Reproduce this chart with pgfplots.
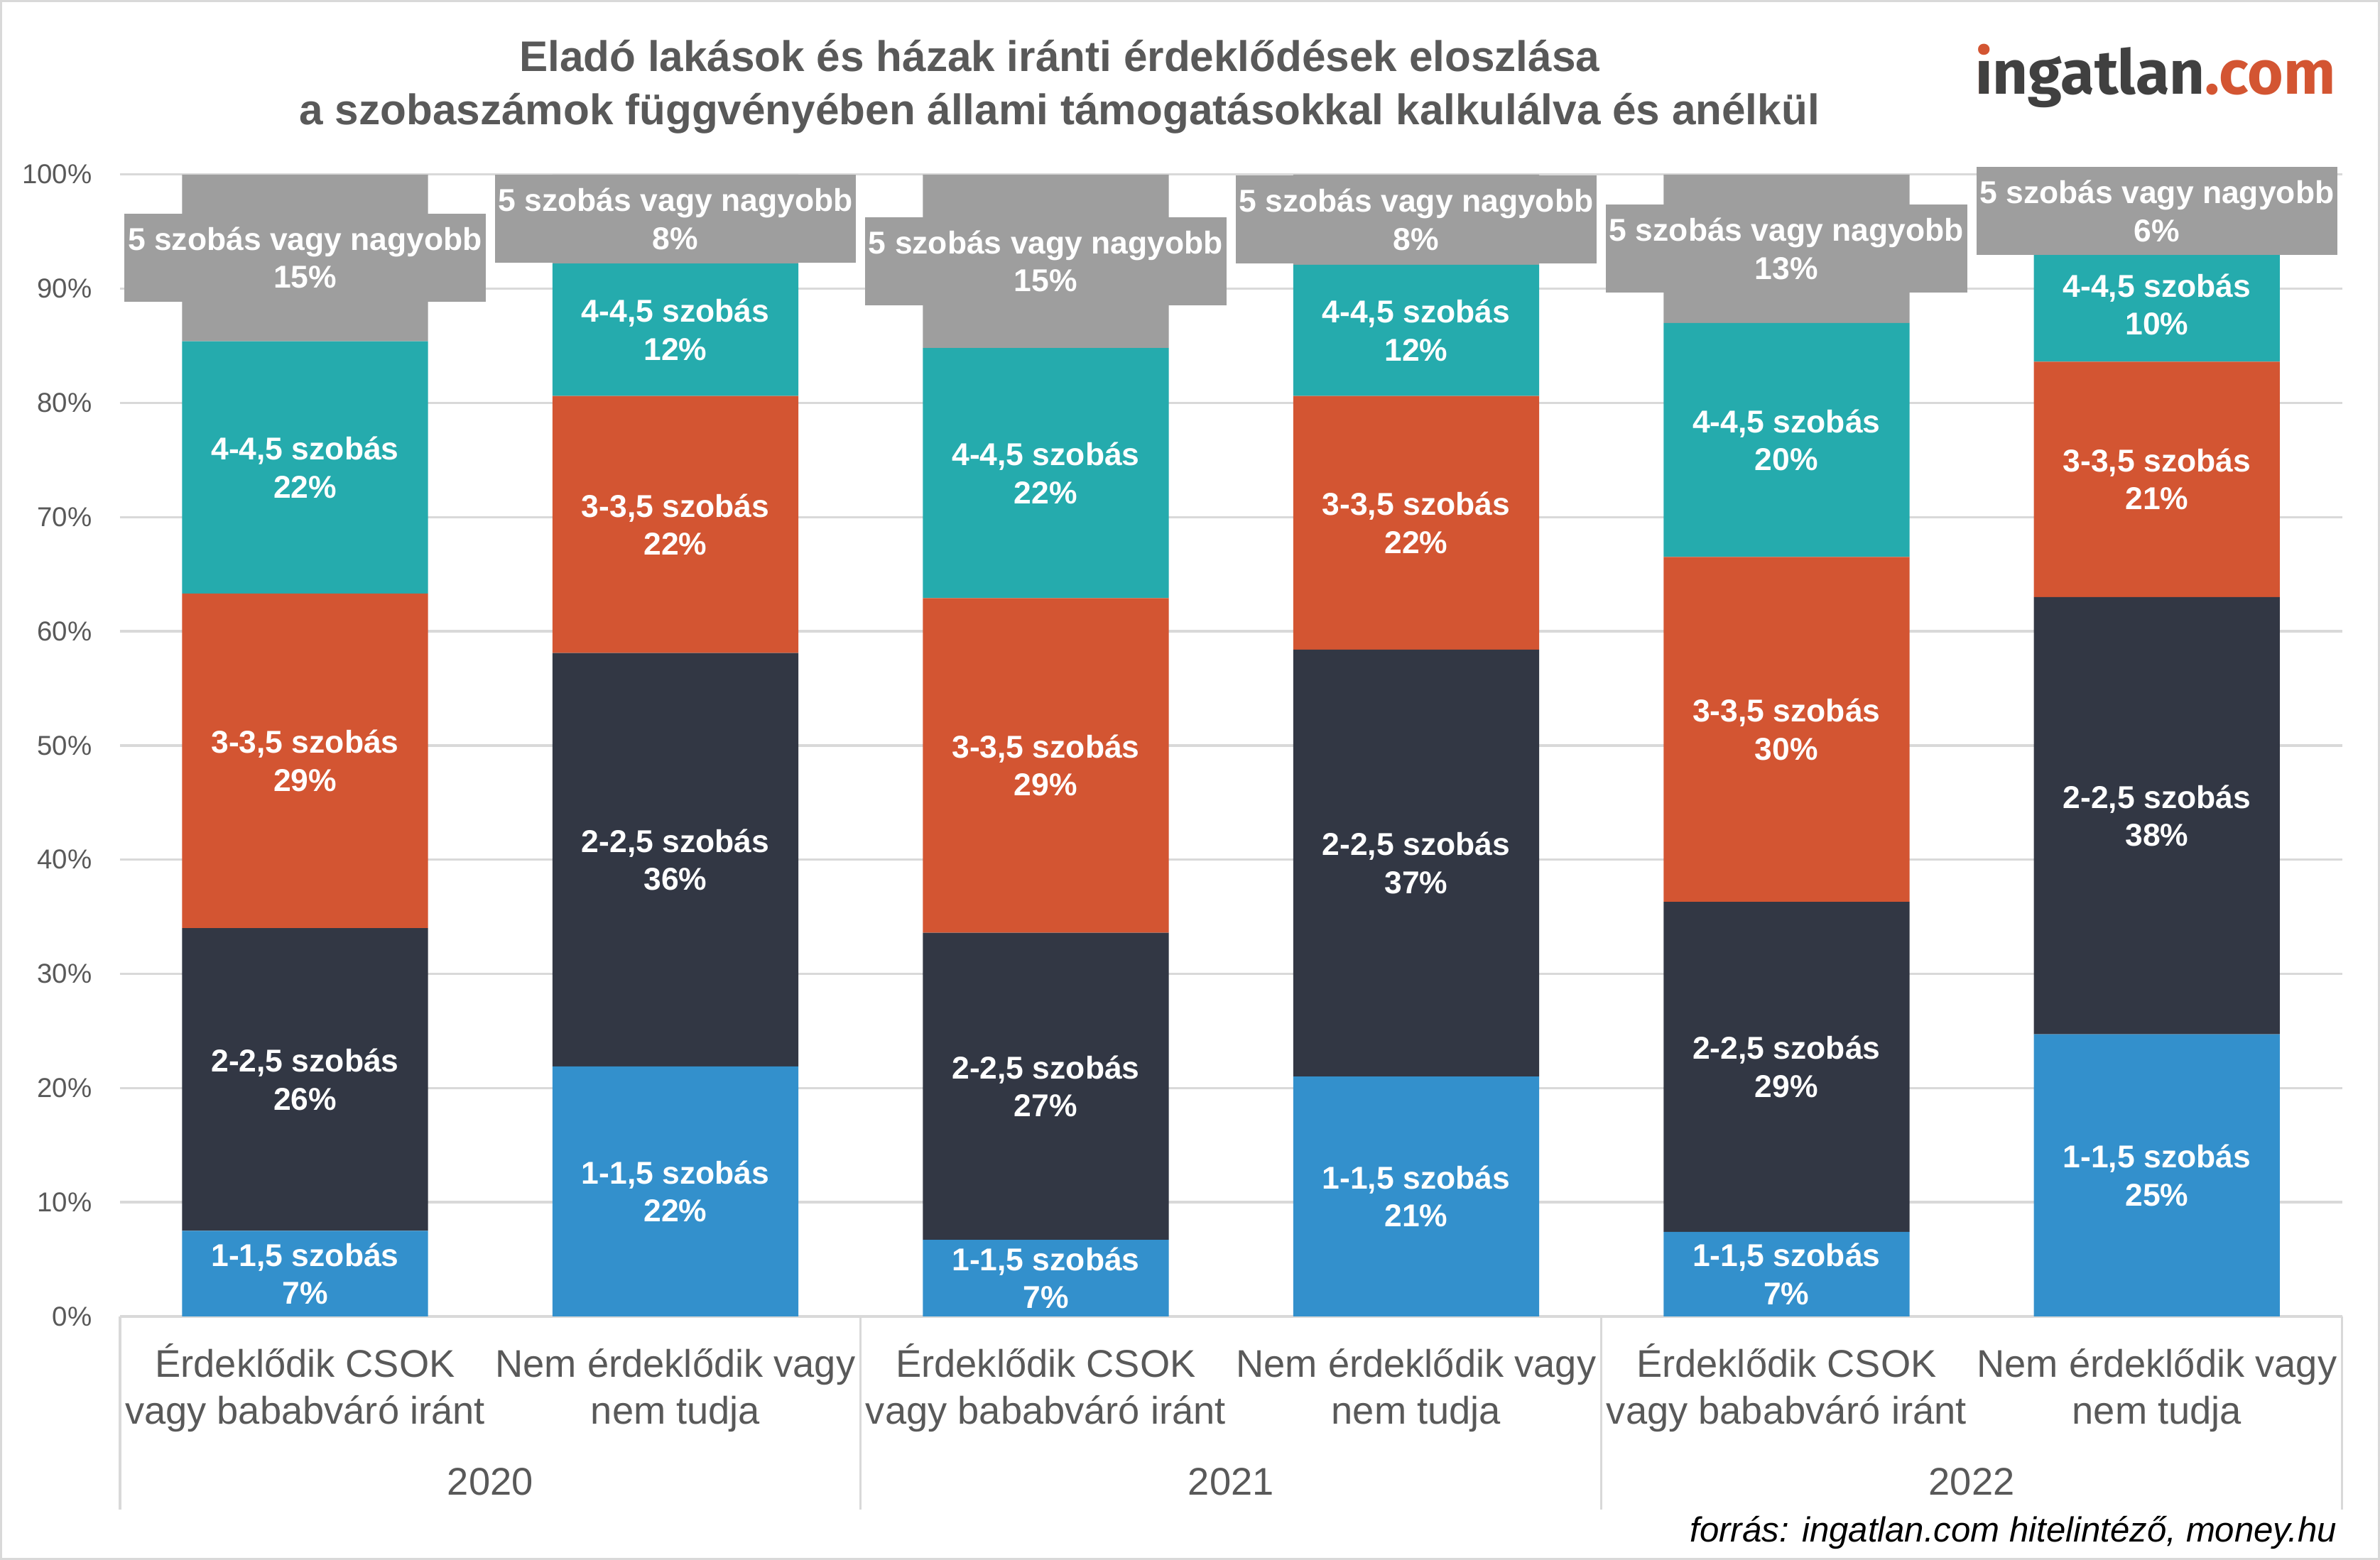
\documentclass[border=0pt]{standalone}
\usepackage{pgfplots}
\pgfplotsset{compat=1.18}
\usepackage{pgfplotstable}
\usepackage{fontspec}
\setmainfont{Liberation Sans}
\newfontfamily\logofont{Fira Sans}
\definecolor{cblue}{HTML}{3390CC}
\definecolor{cdark}{HTML}{323744}
\definecolor{corange}{HTML}{D35532}
\definecolor{cteal}{HTML}{25ABAD}
\definecolor{cgray}{HTML}{9E9E9E}
\definecolor{gridgray}{HTML}{D9D9D9}
\definecolor{labgray}{HTML}{595959}
\definecolor{logogray}{HTML}{404040}
\newcommand{\fs}[2]{\fontsize{#1}{#2}\selectfont}

\pgfplotstableread{
x a b c d e la lb lc ld le
0 7.5 26.5 29.3 22.1 14.6 7 26 29 22 15
1 21.9 36.2 22.5 11.6 7.8 22 36 22 12 8
2 6.7 26.9 29.3 21.9 15.2 7 27 29 22 15
3 21.0 37.4 22.2 11.5 7.9 21 37 22 12 8
4 7.4 28.9 30.2 20.5 13.0 7 29 30 20 13
5 24.7 38.3 20.6 10.0 6.4 25 38 21 10 6
}\data

\pgfplotsset{
  seglabel/.style={
    point meta=explicit symbolic,
    nodes near coords={#1\\\pgfplotspointmeta\%},
    every node near coord/.append style={font=\bfseries\fs{10.4bp}{12.5bp}, text=white,
      align=center, anchor=center, inner sep=0pt},
  },
}

\begin{document}
\begin{tikzpicture}
\path[use as bounding box] (0,0) rectangle (784bp,514bp);
\draw[color=gridgray, line width=0.8bp] (0.4bp,0.4bp) rectangle (783.6bp,513.6bp);

\node[anchor=base, font=\bfseries\fs{14.1bp}{17bp}, text=labgray] at (349bp,490.5bp)
  {Eladó lakások és házak iránti érdeklődések eloszlása};
\node[anchor=base, font=\bfseries\fs{14.1bp}{17bp}, text=labgray] at (349bp,473bp)
  {a szobaszámok függvényében állami támogatásokkal kalkulálva és anélkül};

\node[anchor=base west, inner sep=0pt, font=\logofont\bfseries\fs{20.3bp}{24bp}] at (650.5bp,483bp)
  {\rlap{\color{corange}i}\color{logogray}\i ngatlan\color{corange}.com};

\node[anchor=base east, inner sep=0pt, font=\itshape\fs{11.5bp}{13bp}] at (770bp,6bp)
  {forrás: ingatlan.com hitelintéző, money.hu};

\begin{axis}[
  at={(39.5bp,80.25bp)}, anchor=south west,
  scale only axis, width=732bp, height=376.25bp,
  ybar stacked, bar width=81bp,
  xmin=-0.5, xmax=5.5, ymin=0, ymax=100,
  clip=false,
  axis x line*=bottom, axis y line*=left,
  y axis line style={draw=none},
  x axis line style={draw=gridgray, line width=0.8bp},
  ymajorgrids, grid style={draw=gridgray, line width=0.8bp},
  major tick length=0pt,
  /pgf/number format/assume math mode=true,
  ytick={0,10,...,100},
  yticklabel={\pgfmathprintnumber{\tick}\%},
  yticklabel style={font=\fs{9bp}{11bp}, text=labgray, inner sep=0pt, xshift=-9bp},
  xtick={0,...,5},
  xticklabels={
    {\rule{0pt}{12bp}Érdeklődik CSOK\\vagy bababváró iránt},
    {\rule{0pt}{12bp}Nem érdeklődik vagy\\nem tudja},
    {\rule{0pt}{12bp}Érdeklődik CSOK\\vagy bababváró iránt},
    {\rule{0pt}{12bp}Nem érdeklődik vagy\\nem tudja},
    {\rule{0pt}{12bp}Érdeklődik CSOK\\vagy bababváró iránt},
    {\rule{0pt}{12bp}Nem érdeklődik vagy\\nem tudja}},
  xticklabel style={font=\fs{12.7bp}{15.5bp}, text=labgray, align=center, anchor=north,
    inner sep=0pt, yshift=-7.75bp},
]
\addplot[fill=cblue, draw=none, seglabel={1-1,5 szobás}] table[x=x, y=a, meta=la] {\data};
\addplot[fill=cdark, draw=none, seglabel={2-2,5 szobás}] table[x=x, y=b, meta=lb] {\data};
\addplot[fill=corange, draw=none, seglabel={3-3,5 szobás}] table[x=x, y=c, meta=lc] {\data};
\addplot[fill=cteal, draw=none, seglabel={4-4,5 szobás}] table[x=x, y=d, meta=ld] {\data};
\addplot[fill=cgray, draw=none, seglabel={5 szobás vagy nagyobb},
  every node near coord/.append style={fill=cgray, minimum width=119bp, minimum height=29bp}
  ] table[x=x, y=e, meta=le] {\data};

\draw[gridgray, line width=0.8bp] (axis cs:-0.5,0) -- ++(0pt,-63.75bp);
\draw[gridgray, line width=0.8bp] (axis cs:1.5,0) -- ++(0pt,-63.75bp);
\draw[gridgray, line width=0.8bp] (axis cs:3.5,0) -- ++(0pt,-63.75bp);
\draw[gridgray, line width=0.8bp] (axis cs:5.5,0) -- ++(0pt,-63.75bp);
\node[anchor=base, font=\fs{12.7bp}{15.5bp}, text=labgray, yshift=-58.75bp] at (axis cs:0.5,0) {2020};
\node[anchor=base, font=\fs{12.7bp}{15.5bp}, text=labgray, yshift=-58.75bp] at (axis cs:2.5,0) {2021};
\node[anchor=base, font=\fs{12.7bp}{15.5bp}, text=labgray, yshift=-58.75bp] at (axis cs:4.5,0) {2022};
\end{axis}
\end{tikzpicture}
\end{document}
